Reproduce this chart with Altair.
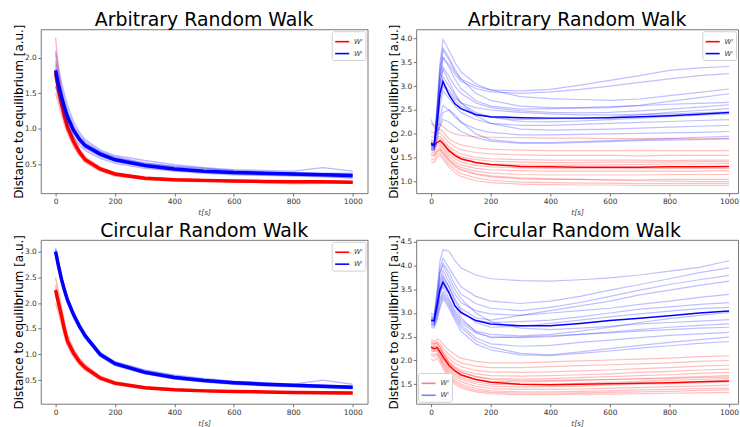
import altair as alt
import pandas as pd

# sample times [s]
T = [0, 10, 20, 30, 40, 60, 80, 100, 150, 200, 300, 400, 500, 600, 700, 800, 900, 1000]

SERIES = ["W\u02b3", "W\u02e1"]          # red, blue
COLORS = ["#ff0000", "#0000ff"]

# ---------------- Arbitrary random walk, left panel ----------------
arb_l_red_mean = [1.78, 1.55, 1.35, 1.17, 1.02, 0.82, 0.67, 0.56, 0.43, 0.36, 0.30, 0.28, 0.27, 0.26, 0.255, 0.25, 0.25, 0.245]
arb_l_red_runs = [
    [2.28, 1.85, 1.55, 1.32, 1.14, 0.90, 0.72, 0.60, 0.46, 0.38, 0.32, 0.29, 0.28, 0.27, 0.26, 0.26, 0.25, 0.25],
    [2.05, 1.70, 1.45, 1.25, 1.08, 0.86, 0.70, 0.58, 0.44, 0.37, 0.31, 0.29, 0.27, 0.27, 0.26, 0.25, 0.26, 0.25],
    [1.60, 1.42, 1.26, 1.10, 0.97, 0.78, 0.64, 0.54, 0.41, 0.34, 0.29, 0.27, 0.26, 0.25, 0.25, 0.24, 0.24, 0.24],
    [1.50, 1.35, 1.20, 1.05, 0.93, 0.75, 0.62, 0.52, 0.40, 0.33, 0.28, 0.26, 0.25, 0.25, 0.24, 0.22, 0.23, 0.23],
    [1.90, 1.62, 1.40, 1.20, 1.05, 0.84, 0.68, 0.57, 0.43, 0.35, 0.30, 0.27, 0.26, 0.26, 0.25, 0.25, 0.25, 0.24],
    [1.70, 1.50, 1.32, 1.15, 1.00, 0.80, 0.66, 0.55, 0.42, 0.35, 0.30, 0.28, 0.27, 0.26, 0.26, 0.25, 0.24, 0.25],
]
arb_l_blue_mean = [1.82, 1.62, 1.45, 1.30, 1.17, 0.98, 0.85, 0.76, 0.64, 0.56, 0.48, 0.43, 0.40, 0.38, 0.37, 0.36, 0.35, 0.34]
arb_l_blue_runs = [
    [2.10, 1.85, 1.65, 1.48, 1.33, 1.10, 0.95, 0.84, 0.70, 0.62, 0.55, 0.49, 0.45, 0.42, 0.41, 0.40, 0.45, 0.40],
    [1.95, 1.75, 1.56, 1.40, 1.26, 1.05, 0.91, 0.81, 0.68, 0.60, 0.52, 0.46, 0.43, 0.41, 0.39, 0.38, 0.37, 0.37],
    [1.70, 1.52, 1.37, 1.23, 1.11, 0.93, 0.81, 0.72, 0.61, 0.53, 0.46, 0.41, 0.39, 0.37, 0.36, 0.35, 0.34, 0.33],
    [1.60, 1.45, 1.30, 1.17, 1.05, 0.88, 0.77, 0.69, 0.58, 0.51, 0.44, 0.40, 0.37, 0.35, 0.34, 0.33, 0.32, 0.31],
    [1.85, 1.63, 1.46, 1.32, 1.20, 1.01, 0.88, 0.79, 0.67, 0.58, 0.50, 0.45, 0.41, 0.39, 0.38, 0.37, 0.36, 0.35],
    [1.75, 1.55, 1.40, 1.26, 1.13, 0.95, 0.83, 0.74, 0.62, 0.55, 0.47, 0.42, 0.39, 0.36, 0.35, 0.34, 0.33, 0.30],
    [1.80, 1.60, 1.42, 1.28, 1.16, 0.97, 0.86, 0.77, 0.66, 0.59, 0.51, 0.47, 0.44, 0.40, 0.37, 0.35, 0.36, 0.34],
]

# ---------------- Arbitrary random walk, right panel ----------------
arb_r_red_mean = [1.78, 1.75, 1.82, 1.86, 1.80, 1.65, 1.55, 1.48, 1.40, 1.36, 1.32, 1.31, 1.30, 1.30, 1.30, 1.31, 1.31, 1.32]
arb_r_red_runs = [
    [2.22, 2.18, 2.22, 2.20, 2.15, 2.05, 2.00, 1.97, 1.94, 1.93, 1.92, 1.91, 1.91, 1.90, 1.90, 1.90, 1.90, 1.90],
    [2.05, 2.02, 2.08, 2.10, 2.04, 1.90, 1.82, 1.77, 1.71, 1.68, 1.66, 1.65, 1.65, 1.65, 1.65, 1.65, 1.65, 1.65],
    [1.95, 1.92, 2.00, 2.02, 1.96, 1.82, 1.73, 1.67, 1.61, 1.58, 1.56, 1.55, 1.55, 1.55, 1.54, 1.55, 1.55, 1.55],
    [1.88, 1.85, 1.92, 1.95, 1.88, 1.74, 1.65, 1.58, 1.51, 1.48, 1.46, 1.45, 1.45, 1.45, 1.45, 1.44, 1.45, 1.45],
    [1.82, 1.80, 1.88, 1.90, 1.84, 1.69, 1.59, 1.52, 1.46, 1.43, 1.41, 1.40, 1.40, 1.41, 1.41, 1.41, 1.42, 1.42],
    [1.76, 1.74, 1.82, 1.85, 1.78, 1.63, 1.53, 1.46, 1.40, 1.37, 1.35, 1.34, 1.35, 1.35, 1.36, 1.37, 1.37, 1.38],
    [1.72, 1.70, 1.78, 1.80, 1.73, 1.58, 1.48, 1.41, 1.34, 1.31, 1.29, 1.28, 1.28, 1.28, 1.28, 1.28, 1.28, 1.28],
    [1.68, 1.66, 1.74, 1.76, 1.69, 1.53, 1.42, 1.35, 1.28, 1.25, 1.23, 1.22, 1.22, 1.22, 1.22, 1.22, 1.22, 1.23],
    [1.62, 1.60, 1.68, 1.71, 1.64, 1.48, 1.37, 1.30, 1.22, 1.18, 1.15, 1.14, 1.14, 1.14, 1.14, 1.15, 1.15, 1.15],
    [1.58, 1.56, 1.64, 1.68, 1.60, 1.45, 1.34, 1.26, 1.17, 1.12, 1.08, 1.06, 1.05, 1.03, 1.02, 1.01, 1.00, 1.00],
    [1.55, 1.53, 1.62, 1.66, 1.58, 1.42, 1.31, 1.24, 1.15, 1.10, 1.06, 1.05, 1.05, 1.04, 1.04, 1.05, 1.05, 1.05],
    [1.48, 1.46, 1.56, 1.60, 1.52, 1.36, 1.25, 1.17, 1.08, 1.03, 0.99, 0.98, 0.97, 0.97, 0.96, 0.96, 0.96, 0.96],
    [1.42, 1.40, 1.50, 1.55, 1.47, 1.30, 1.19, 1.11, 1.02, 0.98, 0.95, 0.94, 0.93, 0.93, 0.92, 0.92, 0.92, 0.92],
]
arb_r_blue_mean = [1.80, 1.76, 2.20, 2.85, 3.10, 2.82, 2.63, 2.53, 2.40, 2.36, 2.34, 2.33, 2.33, 2.34, 2.36, 2.38, 2.41, 2.45]
arb_r_blue_runs = [
    [1.85, 1.80, 2.50, 3.30, 3.75, 3.55, 3.30, 3.15, 3.00, 2.92, 2.90, 2.93, 3.02, 3.12, 3.22, 3.33, 3.38, 3.41],
    [1.80, 1.78, 2.40, 3.15, 3.60, 3.45, 3.25, 3.10, 2.95, 2.88, 2.85, 2.88, 2.93, 3.00, 3.08, 3.15, 3.22, 3.26],
    [1.82, 1.77, 2.60, 3.50, 3.98, 3.75, 3.50, 3.30, 3.05, 2.92, 2.78, 2.74, 2.72, 2.70, 2.73, 2.80, 2.87, 2.94],
    [1.76, 1.72, 2.50, 3.40, 3.80, 3.60, 3.35, 3.15, 2.85, 2.70, 2.58, 2.55, 2.54, 2.55, 2.60, 2.68, 2.76, 2.84],
    [1.78, 1.75, 2.30, 3.00, 3.40, 3.20, 3.00, 2.85, 2.65, 2.55, 2.48, 2.45, 2.44, 2.45, 2.48, 2.52, 2.56, 2.61],
    [1.70, 1.68, 2.10, 2.75, 3.00, 2.85, 2.70, 2.58, 2.42, 2.35, 2.30, 2.32, 2.33, 2.35, 2.40, 2.45, 2.49, 2.53],
    [1.74, 1.70, 2.20, 2.90, 3.20, 3.00, 2.80, 2.65, 2.45, 2.35, 2.26, 2.25, 2.27, 2.30, 2.33, 2.36, 2.39, 2.42],
    [1.72, 1.69, 2.05, 2.60, 2.90, 2.75, 2.58, 2.45, 2.30, 2.22, 2.18, 2.18, 2.20, 2.22, 2.24, 2.26, 2.28, 2.30],
    [1.79, 1.76, 2.40, 3.05, 3.35, 3.10, 2.85, 2.65, 2.38, 2.22, 2.10, 2.08, 2.09, 2.10, 2.12, 2.14, 2.16, 2.18],
    [1.68, 1.66, 1.95, 2.35, 2.60, 2.50, 2.35, 2.25, 2.10, 2.03, 1.98, 1.98, 1.99, 2.00, 2.01, 2.02, 2.03, 2.05],
    [1.66, 1.64, 1.85, 2.20, 2.45, 2.50, 2.40, 2.25, 2.00, 1.88, 1.82, 1.82, 1.84, 1.86, 1.88, 1.90, 1.93, 1.95],
    [2.30, 2.15, 2.05, 2.15, 2.30, 2.25, 2.15, 2.05, 1.92, 1.85, 1.80, 1.80, 1.82, 1.84, 1.86, 1.87, 1.88, 1.90],
    [1.81, 1.78, 2.30, 2.85, 3.05, 2.90, 2.75, 2.65, 2.55, 2.50, 2.45, 2.42, 2.40, 2.40, 2.41, 2.42, 2.44, 2.46],
    [1.77, 1.74, 2.45, 3.20, 3.60, 3.40, 3.15, 2.95, 2.70, 2.58, 2.52, 2.53, 2.55, 2.57, 2.59, 2.62, 2.64, 2.66],
]

# ---------------- Circular random walk, left panel ----------------
circ_l_red_mean = [2.25, 2.00, 1.75, 1.48, 1.26, 1.03, 0.86, 0.74, 0.54, 0.44, 0.35, 0.31, 0.29, 0.28, 0.27, 0.26, 0.255, 0.25]
circ_l_red_runs = [
    [2.50, 2.20, 1.92, 1.62, 1.38, 1.12, 0.93, 0.80, 0.58, 0.47, 0.37, 0.33, 0.31, 0.29, 0.28, 0.27, 0.27, 0.26],
    [2.35, 2.08, 1.82, 1.55, 1.32, 1.08, 0.90, 0.77, 0.56, 0.45, 0.36, 0.32, 0.30, 0.29, 0.28, 0.27, 0.26, 0.26],
    [2.15, 1.92, 1.68, 1.42, 1.21, 0.99, 0.83, 0.71, 0.52, 0.42, 0.34, 0.30, 0.28, 0.27, 0.26, 0.25, 0.25, 0.24],
    [2.00, 1.80, 1.58, 1.35, 1.16, 0.95, 0.80, 0.69, 0.51, 0.41, 0.33, 0.30, 0.28, 0.27, 0.26, 0.25, 0.24, 0.23],
    [2.28, 2.02, 1.77, 1.50, 1.28, 1.05, 0.87, 0.75, 0.55, 0.44, 0.36, 0.32, 0.30, 0.28, 0.28, 0.27, 0.26, 0.25],
    [2.20, 1.97, 1.72, 1.46, 1.24, 1.01, 0.85, 0.73, 0.53, 0.43, 0.35, 0.31, 0.29, 0.28, 0.27, 0.26, 0.25, 0.25],
]
circ_l_blue_mean = [3.00, 2.72, 2.46, 2.25, 2.06, 1.78, 1.55, 1.36, 1.00, 0.82, 0.65, 0.55, 0.49, 0.45, 0.42, 0.40, 0.38, 0.36]
circ_l_blue_runs = [
    [3.08, 2.80, 2.53, 2.31, 2.12, 1.83, 1.60, 1.40, 1.04, 0.86, 0.70, 0.60, 0.53, 0.48, 0.45, 0.42, 0.50, 0.42],
    [3.02, 2.75, 2.49, 2.28, 2.09, 1.81, 1.58, 1.38, 1.02, 0.85, 0.69, 0.58, 0.51, 0.47, 0.44, 0.41, 0.40, 0.38],
    [2.95, 2.68, 2.42, 2.21, 2.03, 1.75, 1.52, 1.33, 0.98, 0.80, 0.63, 0.53, 0.47, 0.43, 0.40, 0.38, 0.36, 0.34],
    [2.90, 2.64, 2.38, 2.18, 2.00, 1.72, 1.50, 1.31, 0.96, 0.78, 0.62, 0.52, 0.46, 0.42, 0.39, 0.37, 0.35, 0.33],
    [3.04, 2.77, 2.50, 2.29, 2.10, 1.80, 1.57, 1.39, 1.03, 0.84, 0.67, 0.57, 0.50, 0.46, 0.43, 0.40, 0.39, 0.37],
    [2.98, 2.70, 2.44, 2.23, 2.04, 1.76, 1.54, 1.35, 0.99, 0.83, 0.68, 0.56, 0.50, 0.44, 0.41, 0.39, 0.37, 0.35],
]

# ---------------- Circular random walk, right panel ----------------
circ_r_red_mean = [2.28, 2.25, 2.27, 2.18, 2.08, 1.90, 1.78, 1.70, 1.60, 1.54, 1.50, 1.49, 1.50, 1.51, 1.52, 1.53, 1.55, 1.57]
circ_r_red_runs = [
    [2.45, 2.40, 2.45, 2.42, 2.35, 2.22, 2.12, 2.05, 1.98, 1.95, 1.95, 1.97, 1.99, 2.01, 2.03, 2.05, 2.08, 2.10],
    [2.40, 2.36, 2.40, 2.35, 2.27, 2.12, 2.02, 1.95, 1.88, 1.85, 1.85, 1.87, 1.89, 1.91, 1.93, 1.95, 1.98, 2.00],
    [2.35, 2.33, 2.36, 2.30, 2.20, 2.05, 1.94, 1.87, 1.79, 1.76, 1.75, 1.76, 1.78, 1.80, 1.83, 1.85, 1.88, 1.90],
    [2.30, 2.28, 2.32, 2.25, 2.15, 1.98, 1.87, 1.80, 1.72, 1.68, 1.67, 1.68, 1.70, 1.72, 1.75, 1.77, 1.80, 1.82],
    [2.32, 2.30, 2.30, 2.22, 2.12, 1.94, 1.82, 1.75, 1.66, 1.62, 1.61, 1.62, 1.64, 1.66, 1.68, 1.70, 1.73, 1.75],
    [2.25, 2.22, 2.25, 2.17, 2.06, 1.88, 1.76, 1.68, 1.60, 1.56, 1.55, 1.56, 1.58, 1.60, 1.62, 1.64, 1.66, 1.68],
    [2.38, 2.35, 2.38, 2.28, 2.16, 1.96, 1.84, 1.76, 1.66, 1.60, 1.58, 1.58, 1.59, 1.60, 1.61, 1.62, 1.64, 1.65],
    [2.28, 2.25, 2.26, 2.16, 2.04, 1.85, 1.72, 1.64, 1.55, 1.50, 1.49, 1.50, 1.52, 1.54, 1.56, 1.58, 1.60, 1.62],
    [2.20, 2.18, 2.22, 2.12, 2.00, 1.81, 1.68, 1.60, 1.51, 1.46, 1.44, 1.45, 1.46, 1.48, 1.50, 1.51, 1.53, 1.55],
    [2.22, 2.20, 2.20, 2.08, 1.96, 1.76, 1.63, 1.55, 1.46, 1.41, 1.39, 1.39, 1.40, 1.42, 1.43, 1.45, 1.46, 1.48],
    [2.15, 2.12, 2.15, 2.05, 1.92, 1.72, 1.58, 1.50, 1.41, 1.36, 1.34, 1.34, 1.35, 1.36, 1.38, 1.39, 1.41, 1.42],
    [2.10, 2.08, 2.12, 2.02, 1.88, 1.68, 1.54, 1.46, 1.37, 1.33, 1.31, 1.31, 1.32, 1.33, 1.34, 1.35, 1.37, 1.38],
    [2.02, 2.00, 2.05, 1.96, 1.83, 1.63, 1.50, 1.42, 1.34, 1.30, 1.28, 1.28, 1.29, 1.29, 1.30, 1.31, 1.32, 1.33],
]
circ_r_blue_mean = [2.85, 2.84, 3.15, 3.50, 3.65, 3.43, 3.15, 3.01, 2.84, 2.77, 2.73, 2.73, 2.78, 2.84, 2.89, 2.94, 3.00, 3.04]
circ_r_blue_runs = [
    [2.95, 2.90, 3.50, 4.10, 4.33, 4.30, 4.10, 3.95, 3.80, 3.72, 3.68, 3.67, 3.70, 3.74, 3.80, 3.88, 3.96, 4.10],
    [2.90, 2.88, 3.40, 3.95, 4.15, 3.95, 3.75, 3.55, 3.35, 3.25, 3.20, 3.25, 3.35, 3.48, 3.60, 3.72, 3.85, 3.95],
    [2.88, 2.85, 3.30, 3.85, 4.05, 3.85, 3.60, 3.40, 3.20, 3.10, 3.05, 3.12, 3.22, 3.35, 3.48, 3.60, 3.70, 3.79],
    [2.82, 2.80, 3.20, 3.70, 3.90, 3.65, 3.40, 3.22, 3.05, 2.98, 2.95, 3.05, 3.15, 3.25, 3.38, 3.48, 3.58, 3.67],
    [2.86, 2.84, 3.15, 3.55, 3.75, 3.55, 3.30, 3.10, 2.90, 2.85, 2.95, 3.00, 3.05, 3.10, 3.18, 3.25, 3.33, 3.39],
    [2.80, 2.78, 3.05, 3.40, 3.60, 3.40, 3.15, 3.00, 2.85, 2.80, 2.82, 2.85, 2.92, 3.00, 3.08, 3.13, 3.18, 3.22],
    [2.92, 2.88, 3.25, 3.65, 3.80, 3.55, 3.25, 3.05, 2.80, 2.70, 2.72, 2.78, 2.85, 2.92, 2.98, 3.04, 3.09, 3.12],
    [2.84, 2.82, 3.10, 3.45, 3.55, 3.30, 3.05, 2.85, 2.62, 2.55, 2.52, 2.55, 2.62, 2.70, 2.80, 2.88, 2.95, 3.01],
    [2.78, 2.75, 3.00, 3.30, 3.45, 3.25, 3.00, 2.80, 2.58, 2.50, 2.48, 2.50, 2.55, 2.60, 2.65, 2.70, 2.74, 2.77],
    [2.83, 2.80, 3.10, 3.45, 3.70, 3.45, 3.15, 2.90, 2.60, 2.48, 2.50, 2.52, 2.55, 2.58, 2.62, 2.65, 2.68, 2.70],
    [2.76, 2.74, 2.95, 3.25, 3.40, 3.20, 2.95, 2.75, 2.48, 2.35, 2.30, 2.32, 2.38, 2.43, 2.48, 2.53, 2.56, 2.59],
    [2.74, 2.72, 2.90, 3.15, 3.35, 3.15, 2.90, 2.70, 2.42, 2.28, 2.15, 2.12, 2.18, 2.25, 2.32, 2.38, 2.44, 2.49],
    [2.70, 2.68, 2.85, 3.10, 3.30, 3.10, 2.85, 2.62, 2.35, 2.22, 2.12, 2.10, 2.15, 2.20, 2.26, 2.31, 2.36, 2.40],
    [3.00, 2.95, 3.35, 3.85, 4.00, 3.75, 3.50, 3.30, 3.00, 2.82, 2.68, 2.65, 2.68, 2.72, 2.77, 2.80, 2.83, 2.86],
]

FONT = "DejaVu Sans"
X_TICKS = [0, 200, 400, 600, 800, 1000]


def long_table(runs, series):
    rows = []
    for k, run in enumerate(runs):
        for t, v in zip(T, run):
            rows.append({"t": t, "d": v, "run": f"{series}-{k}", "series": series})
    return pd.DataFrame(rows)


def panel(title, red_runs, red_mean, blue_runs, blue_mean, ydom, yticks,
          width, xmax, legend_orient, mean_w, run_w, run_op, sym_op):
    x = alt.X("t:Q", scale=alt.Scale(domain=[-50, xmax], nice=False, zero=False),
              axis=alt.Axis(values=X_TICKS, format="d", title="t[s]"))
    y = alt.Y("d:Q", scale=alt.Scale(domain=ydom, nice=False, zero=False),
              axis=alt.Axis(values=yticks, format=".1f",
                            title="Distance to equilibrium [a.u.]"))
    cscale = alt.Scale(domain=SERIES, range=COLORS)
    legend = alt.Legend(orient=legend_orient, title=None, symbolType="stroke",
                        symbolStrokeWidth=1.6, symbolSize=200, symbolOpacity=sym_op,
                        labelFontSize=7, labelFont=FONT, labelFontStyle="italic",
                        labelColor="#444", fillColor="white", strokeColor="#d0d0d0",
                        padding=2.5, cornerRadius=2, rowPadding=0, offset=2)
    color = alt.Color("series:N", scale=cscale, legend=legend)

    def runs_layer(runs, series):
        return alt.Chart(long_table(runs, series)).mark_line(
            clip=True, strokeWidth=run_w, opacity=run_op
        ).encode(x=x, y=y, detail="run:N", color=color)

    def mean_layer(mean, series):
        return alt.Chart(long_table([mean], series)).mark_line(
            clip=True, strokeWidth=mean_w
        ).encode(x=x, y=y, detail="run:N", color=color)

    return alt.layer(
        runs_layer(red_runs, SERIES[0]),
        mean_layer(red_mean, SERIES[0]),
        runs_layer(blue_runs, SERIES[1]),
        mean_layer(blue_mean, SERIES[1]),
    ).properties(
        width=width, height=165,
        title=alt.TitleParams(title, fontSize=19, font=FONT, fontWeight="normal",
                              color="black", anchor="middle", frame="group", offset=-6),
    )


tl = panel("Arbitrary Random Walk", arb_l_red_runs, arb_l_red_mean,
           arb_l_blue_runs, arb_l_blue_mean, [0.09, 2.40], [0.5, 1.0, 1.5, 2.0],
           329, 1050, "top-right", 3.5, 1.4, 0.28, 1)
tr = panel("Arbitrary Random Walk", arb_r_red_runs, arb_r_red_mean,
           arb_r_blue_runs, arb_r_blue_mean, [0.76, 4.19],
           [1.0, 1.5, 2.0, 2.5, 3.0, 3.5, 4.0],
           324, 1030, "top-right", 1.5, 1.2, 0.25, 1)
bl = panel("Circular Random Walk", circ_l_red_runs, circ_l_red_mean,
           circ_l_blue_runs, circ_l_blue_mean, [0.04, 3.23],
           [0.5, 1.0, 1.5, 2.0, 2.5, 3.0],
           329, 1050, "top-right", 3.5, 1.4, 0.28, 1)
br = panel("Circular Random Walk", circ_r_red_runs, circ_r_red_mean,
           circ_r_blue_runs, circ_r_blue_mean, [1.09, 4.54],
           [1.5, 2.0, 2.5, 3.0, 3.5, 4.0, 4.5],
           324, 1030, "bottom-left", 1.5, 1.2, 0.25, 0.5)

top = alt.hconcat(tl, tr, spacing=19).resolve_scale(color="independent").resolve_legend(color="independent")
bottom = alt.hconcat(bl, br, spacing=19).resolve_scale(color="independent").resolve_legend(color="independent")

chart = alt.vconcat(top, bottom, spacing=4).resolve_scale(
    color="independent").resolve_legend(color="independent").properties(
    padding={"left": 12, "top": 9, "right": 0, "bottom": 0},
    background="white",
).configure_view(
    stroke="#777777", strokeWidth=1
).configure_axis(
    grid=False, domain=False, tickColor="#555555", tickSize=3, tickWidth=0.8,
    labelFont=FONT, labelFontSize=7.5, labelColor="#333333", labelPadding=1.5,
    titleFont=FONT, titleFontWeight="normal",
).configure_axisX(
    titleFontSize=7.5, titleFontStyle="italic", titleColor="#444444", titlePadding=4,
).configure_axisY(
    titleFontSize=12, titleColor="black", titlePadding=1.5, minExtent=14, maxExtent=14,
)

chart.save("out.html", embed_options={"renderer": "svg", "actions": False})
